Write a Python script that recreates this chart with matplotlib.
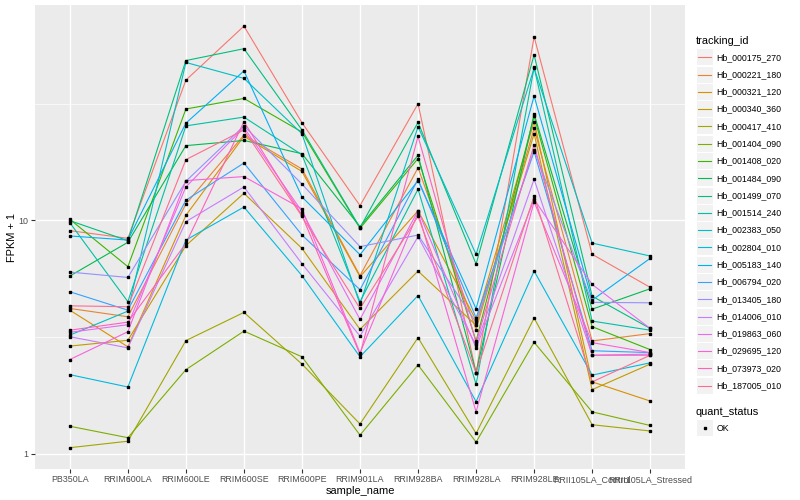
"""FPKM + 1 per sample for 20 Hb transcripts (ggplot-like line chart)"""
import matplotlib
matplotlib.use('Agg')
import matplotlib.pyplot as plt
from matplotlib.ticker import FixedLocator, NullFormatter
from matplotlib.patches import Rectangle
from matplotlib.lines import Line2D

plt.rcParams['font.family'] = ['Liberation Sans', 'DejaVu Sans']

samples = ['PB350LA', 'RRIM600LA', 'RRIM600LE', 'RRIM600SE', 'RRIM600PE',
           'RRIM901LA', 'RRIM928BA', 'RRIM928LA', 'RRIM928LE',
           'RRII105LA_Control', 'RRII105LA_Stressed']

tracking_ids = ['Hb_000175_270', 'Hb_000221_180', 'Hb_000321_120', 'Hb_000340_360',
                'Hb_000417_410', 'Hb_001404_090', 'Hb_001408_020', 'Hb_001484_090',
                'Hb_001499_070', 'Hb_001514_240', 'Hb_002383_050', 'Hb_002804_010',
                'Hb_005183_140', 'Hb_006794_020', 'Hb_013405_180', 'Hb_014006_010',
                'Hb_019863_060', 'Hb_029695_120', 'Hb_073973_020', 'Hb_187005_010']

# ggplot hue palette, 20 levels
colors = ['#F8766D', '#EA8331', '#D89000', '#C09B00', '#A3A500', '#7CAE00',
          '#39B600', '#00BB4E', '#00BF7D', '#00C1A3', '#00BFC4', '#00BAE0',
          '#00B0F6', '#35A2FF', '#9590FF', '#C77CFF', '#E76BF3', '#FA62DB',
          '#FF62BC', '#FF6C91']

# FPKM + 1, one list per tracking_id
fpkm = [
    [9.03, 8.37, 39.9, 68.0, 26.2, 11.56, 31.6, 2.22, 61.2, 7.15, 5.16],
    [4.19, 3.86, 11.75, 23.2, 16.6, 5.79, 16.8, 3.40, 24.8, 3.04, 3.27],
    [4.12, 2.87, 10.5, 22.9, 16.2, 5.73, 11.0, 3.73, 26.5, 2.03, 1.68],
    [2.89, 3.06, 7.79, 13.06, 7.58, 3.41, 6.06, 3.55, 23.5, 1.88, 2.42],
    [1.06, 1.13, 3.05, 4.03, 2.42, 1.34, 3.14, 1.22, 3.81, 1.33, 1.25],
    [1.31, 1.17, 2.29, 3.35, 2.60, 1.20, 2.40, 1.12, 3.00, 1.51, 1.32],
    [10.1, 6.33, 30.0, 33.3, 23.9, 9.24, 18.4, 3.04, 27.9, 3.50, 2.79],
    [5.77, 8.05, 20.9, 22.0, 19.3, 9.39, 19.0, 2.22, 28.6, 4.16, 5.09],
    [9.97, 8.18, 48.4, 54.4, 24.4, 9.30, 26.3, 6.49, 51.2, 4.73, 3.44],
    [9.77, 4.48, 25.4, 27.7, 19.1, 4.48, 13.6, 1.98, 45.2, 3.70, 3.38],
    [3.22, 4.08, 47.5, 40.6, 23.5, 4.37, 25.2, 7.15, 44.9, 7.99, 7.03],
    [2.18, 1.93, 8.23, 11.4, 5.79, 2.60, 4.76, 1.67, 6.06, 2.17, 2.45],
    [8.57, 8.23, 26.1, 43.7, 12.6, 7.12, 14.8, 4.18, 34.1, 4.55, 6.87],
    [4.94, 4.12, 12.2, 17.6, 8.65, 5.04, 15.0, 3.82, 19.7, 2.76, 2.71],
    [6.00, 5.69, 14.7, 25.4, 14.3, 7.71, 8.65, 3.65, 20.0, 4.45, 4.43],
    [3.17, 2.84, 9.87, 13.9, 6.52, 3.19, 8.51, 2.92, 15.0, 2.64, 2.67],
    [3.31, 3.57, 13.9, 25.0, 10.9, 3.76, 11.0, 2.84, 12.3, 5.31, 3.44],
    [2.53, 3.33, 14.8, 15.4, 11.2, 2.70, 10.8, 1.51, 12.0, 2.99, 2.71],
    [3.38, 3.66, 7.96, 26.5, 10.5, 2.66, 22.9, 2.99, 21.1, 2.64, 2.64],
    [4.30, 4.26, 18.2, 24.4, 10.4, 4.19, 10.4, 2.22, 12.7, 2.03, 2.64],
]

W, H = 800, 500
fig = plt.figure(figsize=(W / 100, H / 100), dpi=100)
ax = fig.add_axes([35 / W, 1 - 469 / H, 650 / W, 464 / H])
ax.set_facecolor('#EBEBEB')
for s in ax.spines.values():
    s.set_visible(False)

x = list(range(len(samples)))
for vals, col in zip(fpkm, colors):
    ax.plot(x, vals, color=col, lw=0.8, zorder=2)
for vals in fpkm:
    ax.plot(x, vals, ls='none', marker='s', ms=1.8, color='black', zorder=3)

ax.set_yscale('log')
ax.set_ylim(10 ** -0.066, 10 ** 1.923)
ax.set_xlim(-0.6, len(samples) - 0.4)
ax.yaxis.set_major_locator(FixedLocator([1, 10]))
ax.set_yticklabels(['1', '10'])
ax.yaxis.set_minor_locator(FixedLocator([10 ** 0.5, 10 ** 1.5]))
ax.yaxis.set_minor_formatter(NullFormatter())
ax.set_xticks(x)
ax.set_xticklabels(samples)

ax.tick_params(axis='both', which='major', length=3, width=0.8, color='#333333',
               labelcolor='#4D4D4D', labelsize=6.4, pad=1.5)
ax.tick_params(axis='y', which='minor', length=0)
ax.grid(which='major', color='white', lw=1.0)
ax.grid(which='minor', axis='y', color='white', lw=0.5)
ax.set_axisbelow(True)

ax.set_xlabel('sample_name', fontsize=7.9, labelpad=1)
ax.set_ylabel('FPKM + 1', fontsize=7.9, labelpad=1)


def fx(px):
    return px / W


def fy(py):
    return 1 - py / H


# legend: tracking_id
fig.text(fx(696), fy(40.5), 'tracking_id', fontsize=7.9, va='center', ha='left')
for i, (name, col) in enumerate(zip(tracking_ids, colors)):
    cy = 57.3 + i * 17.28
    fig.patches.append(Rectangle((fx(696.5), fy(cy + 8)), 16 / W, 16 / H,
                                 transform=fig.transFigure, facecolor='#F2F2F2',
                                 edgecolor='none'))
    fig.lines.append(Line2D([fx(698), fx(711)], [fy(cy), fy(cy)],
                            transform=fig.transFigure, color=col, lw=0.8))
    fig.text(fx(716.5), fy(cy), name, fontsize=6.3, va='center', ha='left')

# legend: quant_status
fig.text(fx(696), fy(412), 'quant_status', fontsize=7.9, va='center', ha='left')
fig.patches.append(Rectangle((fx(696.5), fy(428.3 + 8)), 16 / W, 16 / H,
                             transform=fig.transFigure, facecolor='#F2F2F2',
                             edgecolor='none'))
fig.lines.append(Line2D([fx(704.5)], [fy(428.3)], transform=fig.transFigure,
                        ls='none', marker='s', ms=1.8, color='black'))
fig.text(fx(716.5), fy(428.3), 'OK', fontsize=6.3, va='center', ha='left')

fig.savefig('out.png', dpi=100, facecolor='white')
